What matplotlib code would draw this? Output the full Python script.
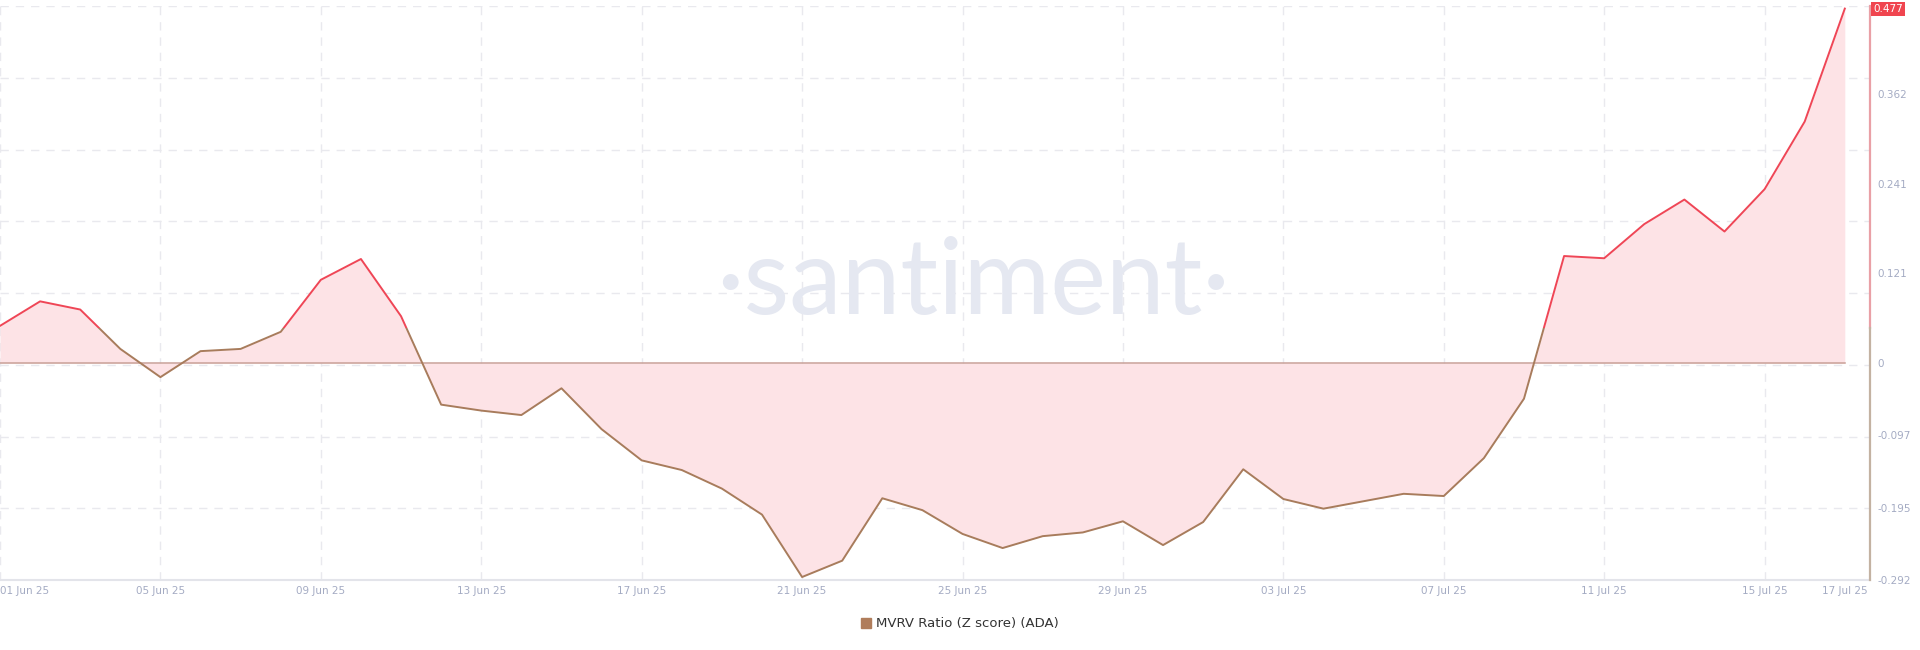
"""MVRV Ratio (Z score) for ADA, Santiment style area chart."""

import matplotlib

matplotlib.use("Agg")
import matplotlib.dates as mdates  # noqa: E402
import matplotlib.patches as mpatches  # noqa: E402
import matplotlib.pyplot as plt  # noqa: E402
import matplotlib.transforms as mtransforms  # noqa: E402
import numpy as np  # noqa: E402
import pandas as pd  # noqa: E402

DATES = pd.date_range("2025-06-01", "2025-07-17", freq="D")
MVRV_Z = [
    0.050, 0.083, 0.072, 0.019, -0.019, 0.016, 0.019, 0.042, 0.112, 0.140,
    0.063, -0.056, -0.064, -0.070, -0.034, -0.089, -0.131, -0.144, -0.169, -0.204,
    -0.288, -0.266, -0.182, -0.198, -0.230, -0.249, -0.233, -0.228, -0.213, -0.245,
    -0.214, -0.143, -0.183, -0.196, -0.186, -0.176, -0.179, -0.128, -0.048, 0.144,
    0.141, 0.187, 0.220, 0.177, 0.234, 0.325, 0.477,
]
Y_TICKS = [-0.292, -0.195, -0.097, 0, 0.121, 0.241, 0.362]
Y_TICK_LABELS = ["-0.292", "-0.195", "-0.097", "0", "0.121", "0.241", "0.362"]
X_TICK_DATES = list(pd.date_range("2025-06-01", "2025-07-15", freq="4D")) + [pd.Timestamp("2025-07-17")]
LAST_LABEL = "0.477"
SERIES_NAME = "MVRV Ratio (Z score) (ADA)"

RED = "#ef4656"
BROWN = "#a87c5c"
FILL = "#fde3e6"
ZERO = "#c9a198"
GRID = "#e9e9ee"
TICK = "#a4abc3"
THRESH = 0.047
Y_MIN, Y_MAX = -0.292, 0.48


def main() -> None:
    fig = plt.figure(figsize=(19.2, 6.5), dpi=100)
    ax = fig.add_axes([0.0, 0.1077, 0.974, 0.8825])
    x = mdates.date2num(DATES)
    y = np.array(MVRV_Z)

    # watermark behind everything
    fig.text(0.507, 0.517, "\u00b7santiment\u00b7", ha="center", va="baseline",
             fontsize=76, color="#e5e8f1", family="Lato", zorder=0)
    ax.patch.set_alpha(0)

    ax.set_xlim(x[0], x[0] + 46.63)
    ax.set_ylim(Y_MIN, Y_MAX)

    for gy in np.linspace(Y_MIN, Y_MAX, 9)[1:]:
        ax.axhline(gy, color=GRID, lw=1, dashes=(6, 5), zorder=1)
    for d in X_TICK_DATES[:-1]:
        ax.axvline(mdates.date2num(d), color=GRID, lw=1, dashes=(6, 5), zorder=1)

    ax.fill_between(x, y, 0, color=FILL, lw=0, zorder=2)
    ax.plot([x[0], x[-1]], [0, 0], color=ZERO, lw=1.1, zorder=3)

    top = mpatches.Rectangle((x[0] - 5, THRESH), 100, 5, transform=ax.transData)
    bottom = mpatches.Rectangle((x[0] - 5, THRESH - 5), 100, 5, transform=ax.transData)
    (red_line,) = ax.plot(x, y, color=RED, lw=1.4, zorder=4)
    red_line.set_clip_path(top)
    (brown_line,) = ax.plot(x, y, color=BROWN, lw=1.4, zorder=4)
    brown_line.set_clip_path(bottom)

    # spines
    for side in ["left", "top", "right"]:
        ax.spines[side].set_visible(False)
    ax.spines["bottom"].set_color("#e3e4ea")
    ax.spines["bottom"].set_linewidth(1.5)
    split = (THRESH - Y_MIN) / (Y_MAX - Y_MIN)
    ax.axvline(ax.get_xlim()[1], ymin=split, ymax=1, color="#e9a0a6", lw=1.6, clip_on=False, zorder=5)
    ax.axvline(ax.get_xlim()[1], ymin=0, ymax=split, color="#c3b2a2", lw=1.6, clip_on=False, zorder=5)

    # y ticks on the right
    ax.yaxis.tick_right()
    ax.set_yticks(Y_TICKS, Y_TICK_LABELS)
    ax.tick_params(axis="y", length=0, pad=5, labelsize=7.5, labelcolor=TICK)
    trans = mtransforms.blended_transform_factory(ax.transAxes, ax.transData)
    ax.text(1.0015, y[-1], LAST_LABEL, transform=trans, ha="left", va="center", fontsize=7.5,
            color="white", bbox=dict(boxstyle="square,pad=0.2", facecolor="#f0454f", edgecolor="none"),
            zorder=6)

    ax.set_xticks(mdates.date2num(X_TICK_DATES), [d.strftime("%d %b %y") for d in X_TICK_DATES])
    ax.tick_params(axis="x", length=0, pad=4, labelsize=7.5, labelcolor=TICK)
    ax.get_xticklabels()[0].set_ha("left")

    handle = mpatches.Patch(color="#b07d5b", label=SERIES_NAME)
    fig.legend(handles=[handle], loc="center", bbox_to_anchor=(0.5, 0.04), frameon=False,
               fontsize=9.5, handlelength=0.7, handleheight=0.7, handletextpad=0.4,
               labelcolor="#333333")

    fig.savefig("out.png", dpi=100)
    plt.close(fig)


if __name__ == "__main__":
    main()
